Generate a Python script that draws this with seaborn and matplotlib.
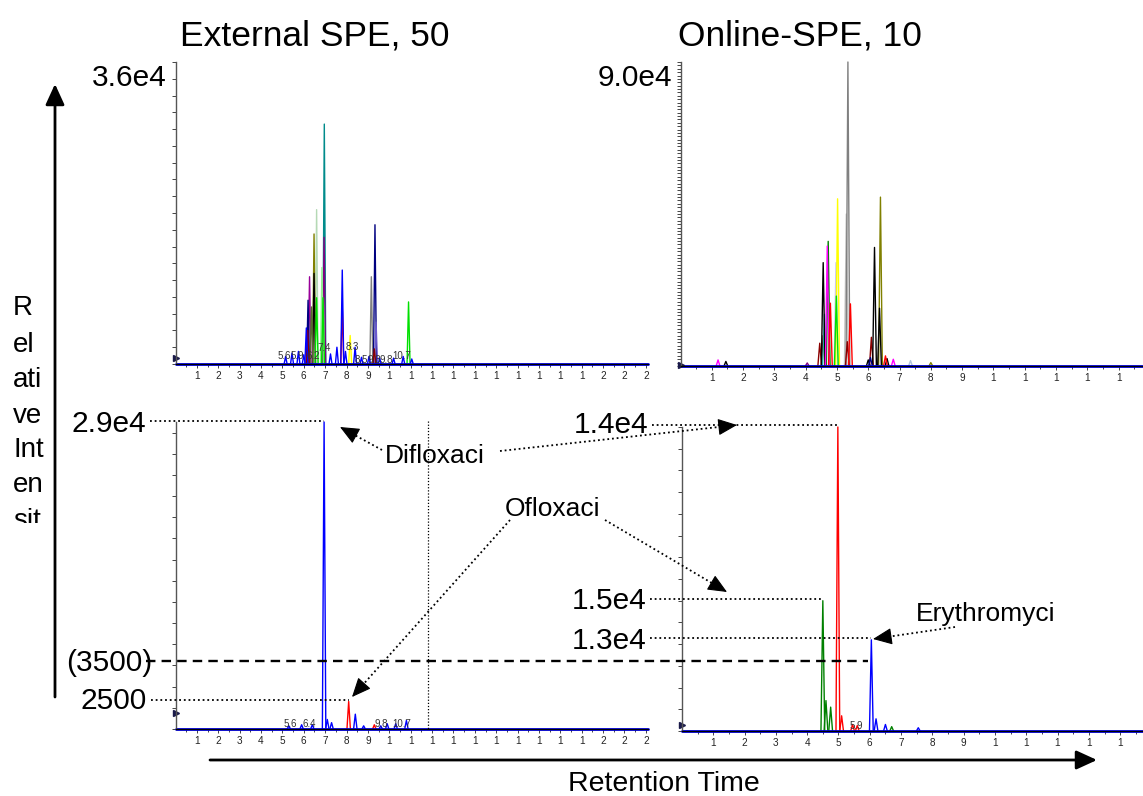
import numpy as np
import pandas as pd
import matplotlib
matplotlib.use("Agg")
import matplotlib.pyplot as plt
from matplotlib.transforms import Bbox
import seaborn as sns

W, H = 1143, 796

# ---------------- data (retention time in min, height in counts) ----------------
# External SPE, 50 - full scan overlay (top left)
tl_rt = [6.60, 6.96, 6.48, 6.95, 6.27, 6.48, 6.85, 6.20, 6.60, 6.90, 6.36, 6.18,
         7.80, 8.17, 9.16, 9.33, 9.38, 9.30, 10.90,
         6.12, 7.80, 5.15, 5.45, 5.75, 6.00, 7.25, 7.55, 7.95, 8.40, 8.70, 9.05,
         9.55, 10.20, 10.65, 11.05]
tl_counts = [18400, 28600, 15500, 15100, 10400, 10800, 11500, 7600, 7900, 7900, 6800, 4000,
             6800, 3400, 10400, 16600, 5000, 1800, 7400,
             4300, 11200, 900, 1300, 1500, 1100, 1200, 2000, 1500, 2000, 800, 900,
             700, 700, 900, 600]
tl_colors = ["#b5d9b5", "#008b8b", "#808000", "#800080", "#990099", "black", "#90ee90",
             "#000080", "#00e000", "#00e000", "#556b2f", "#8b0000",
             "red", "#ffff00", "#808080", "#000080", "#6a5acd", "#8b0000", "#00e000",
             "blue", "blue", "blue", "blue", "blue", "blue", "blue", "blue", "blue",
             "blue", "blue", "blue", "blue", "blue", "blue", "blue"]
tl_tags = ["5.6", "5.9", "6.2", "7.4", "8.3", "8.5", "9.3", "9.8", "10.7"]
tl_tag_rt = [5.10, 5.70, 6.45, 6.96, 8.25, 8.70, 9.30, 9.85, 10.60]
tl_tag_counts = [950, 950, 950, 1900, 2000, 470, 470, 470, 950]

# Online-SPE, 10 - full scan overlay (top right)
tr_rt = [4.45, 4.56, 4.60, 4.56, 4.72, 4.69, 4.79, 4.97, 5.02, 4.98, 5.30, 5.35,
         5.33, 5.43, 6.10, 6.20, 6.39, 6.36,
         1.20, 1.45, 4.05, 6.00, 6.07, 6.60, 6.55, 6.80, 7.35, 8.00]
tr_counts = [6750, 9000, 15300, 30600, 36900, 35500, 18600, 30600, 49500, 20700, 45000, 90000,
             7200, 18400, 8500, 35100, 50000, 17100,
             1800, 1350, 900, 1800, 2500, 2200, 3000, 2000, 1600, 1000]
tr_colors = ["#8b0000", "#8b0000", "#20b2aa", "black", "#008000", "#ff00ff", "red",
             "#c8c8ee", "#ffff00", "#00e000", "#c0c0c0", "#808080",
             "#8b0000", "red", "#8b0000", "black", "#808000", "black",
             "#ff00ff", "black", "#800080", "black", "#000080", "black", "red",
             "#ff00ff", "#b0c4de", "#808000"]

# External SPE, 50 - extracted ions (bottom left)
bl_rt = [8.10, 9.30, 6.95, 7.10, 7.30, 8.41, 5.30, 5.90, 6.40, 8.80, 9.60, 9.90, 10.30, 10.80]
bl_counts = [2600, 400, 29000, 900, 600, 1400, 300, 400, 400, 300, 300, 500, 500, 800]
bl_colors = ["red", "red"] + ["blue"] * 12
bl_tags = ["5.6", "6.4", "9.8", "10.7"]
bl_tag_rt = [5.36, 6.25, 9.61, 10.60]
bl_tag_counts = [470, 470, 470, 470]

# Online-SPE, 10 - extracted ions (bottom right)
br_rt = [4.50, 4.60, 4.75, 6.70, 4.98, 5.10, 5.45, 5.60, 6.05, 6.20, 6.50, 7.55]
br_counts = [6000, 1400, 1100, 200, 14000, 700, 300, 250, 4200, 560, 300, 150]
br_colors = ["#008000"] * 4 + ["red"] * 4 + ["blue"] * 4
br_tags = ["5.9"]
br_tag_rt = [5.58]
br_tag_counts = [230]

xt_left = [str(i)[0] for i in range(1, 23)]
xt_right = [str(i)[0] for i in range(1, 15)]

# ---------------- style ----------------
sns.set_theme(style="white")
plt.rcParams["font.family"] = ["Liberation Sans", "DejaVu Sans"]
plt.rcParams["text.color"] = "black"

fig = plt.figure(figsize=(W / 100, H / 100), dpi=100)


def add_panel(x0, x1, ytop, ybase):
    return fig.add_axes([x0 / W, 1 - ybase / H, (x1 - x0) / W, (ybase - ytop) / H])


def peak_frame(rt, counts, half_width):
    rows = []
    for i, (t, h) in enumerate(zip(rt, counts)):
        for dx, f in ((-half_width, 0.0), (0.0, 1.0), (half_width, 0.0)):
            rows.append({"peak": i, "time": t + dx, "counts": h * f})
    return pd.DataFrame(rows)


def draw_panel(ax, rt, counts, colors, half_width, xmax, ymax, ystep, xlabels,
               tags=(), tag_rt=(), tag_counts=(), marker_y=0.0):
    df = peak_frame(rt, counts, half_width)
    pal = {i: c for i, c in enumerate(colors)}
    sns.lineplot(data=df, x="time", y="counts", hue="peak", palette=pal,
                 estimator=None, sort=False, legend=False, lw=1.0, ax=ax)
    # blue baseline trace
    sns.lineplot(x=[0, xmax], y=[0, 0], color="blue", lw=2.0, ax=ax)
    for ln in ax.lines:
        ln.set_clip_on(False)
    ax.plot([0], [marker_y], marker=">", color="#1a1a4a", ms=4, clip_on=False)
    for s, t, c in zip(tags, tag_rt, tag_counts):
        ax.text(t, c, s, fontsize=7, color="#333333", ha="center", va="center")

    ax.set_xlim(0, xmax)
    ax.set_ylim(0, ymax)
    ax.set_xticks(range(1, len(xlabels) + 1))
    ax.set_xticklabels(xlabels, fontsize=7.2, color="#222222")
    ax.set_xticks(np.arange(0.5, xmax, 1.0), minor=True)
    ax.set_yticks(np.arange(0, ymax + 1, ystep))
    ax.set_yticklabels([])
    ax.tick_params(axis="both", which="both", direction="out", bottom=True, left=True,
                   length=3, width=0.7, color="#444444", pad=2)
    ax.tick_params(axis="x", which="minor", length=2)
    ax.set_xlabel("")
    ax.set_ylabel("")
    for s in ("top", "right"):
        ax.spines[s].set_visible(False)
    ax.spines["left"].set_color("#555555")
    ax.spines["left"].set_linewidth(1.0)
    ax.spines["bottom"].set_color("black")
    ax.spines["bottom"].set_linewidth(1.0)
    ax.patch.set_alpha(0)


ax_tl = add_panel(175.5, 648, 62, 364)
ax_tr = add_panel(680.5, 1143, 62, 366)
ax_bl = add_panel(175.5, 648, 422, 729)
ax_br = add_panel(682, 1143, 427, 731)

draw_panel(ax_tl, tl_rt, tl_counts, tl_colors, 0.07, 22.1, 36000, 2000, xt_left,
           tl_tags, tl_tag_rt, tl_tag_counts, marker_y=700)
draw_panel(ax_tr, tr_rt, tr_counts, tr_colors, 0.06, 14.78, 90000, 1000, xt_right,
           marker_y=300)
draw_panel(ax_bl, bl_rt, bl_counts, bl_colors, 0.08, 22.1, 29000, 2000, xt_left,
           bl_tags, bl_tag_rt, bl_tag_counts, marker_y=1500)
draw_panel(ax_br, br_rt, br_counts, br_colors, 0.06, 14.73, 14000, 1000, xt_right,
           br_tags, br_tag_rt, br_tag_counts, marker_y=280)

# ---------------- annotation layer (pixel coordinates) ----------------
ov = fig.add_axes([0, 0, 1, 1], zorder=10)
ov.set_xlim(0, W)
ov.set_ylim(H, 0)
ov.axis("off")
ov.patch.set_alpha(0)


def to_px(ax, x, y):
    return ov.transData.inverted().transform(ax.transData.transform((x, y)))


dot = (0, (1, 1.6))


def dotted_arrow(start, tip, head_px=16):
    x0, y0 = start
    x1, y1 = tip
    d = np.hypot(x1 - x0, y1 - y0)
    ux, uy = (x1 - x0) / d, (y1 - y0) / d
    bx, by = x1 - ux * head_px, y1 - uy * head_px
    ov.plot([x0, bx], [y0, by], color="black", lw=1.3, ls=dot)
    ov.annotate("", xy=(x1, y1), xytext=(bx, by),
                arrowprops=dict(arrowstyle="-|>,head_length=0.8,head_width=0.35",
                                lw=0.8, color="black", mutation_scale=15,
                                shrinkA=0, shrinkB=0))


ov.text(180, 45, "External SPE, 50", fontsize=25.5, ha="left", va="baseline")
ov.text(678, 45, "Online-SPE, 10", fontsize=25.5, ha="left", va="baseline")

value_labels = [("3.6e4", 167, 86), ("9.0e4", 672, 86), ("2.9e4", 146, 432),
                ("1.4e4", 648, 433), ("1.5e4", 646, 609), ("1.3e4", 646, 649),
                ("(3500)", 152, 671), ("2500", 147, 709)]
for s, x, y in value_labels:
    ov.text(x, y, s, fontsize=21.5, ha="right", va="baseline")

# leader lines from labels to the peak apexes
for ax, (t, h), x0 in [(ax_bl, (6.95, 29000), 150), (ax_bl, (8.10, 2600), 151),
                        (ax_br, (4.98, 14000), 652), (ax_br, (4.50, 6000), 650),
                        (ax_br, (6.05, 4200), 650)]:
    px, py = to_px(ax, t, h)
    ov.plot([x0, px], [py - 1.5, py - 1.5], color="black", lw=1.3, ls=dot)

ov.plot([428, 428], [421, 730], color="black", lw=0.9, ls=(0, (1, 1.5)))
ov.plot([146, 868], [661, 661], color="black", lw=1.7, ls=(0, (4, 2.6)))

for start, tip in [((382, 450), (340, 427)), ((500, 451), (737, 425)),
                   ((510, 520), (352, 697)), ((605, 520), (727, 592)),
                   ((955, 627), (873, 639))]:
    dotted_arrow(start, tip)

ov.text(385, 463, "Difloxaci", fontsize=19, ha="left", va="baseline")
ov.text(505, 516, "Ofloxaci", fontsize=19, ha="left", va="baseline")
ov.text(916, 621, "Erythromyci", fontsize=19, ha="left", va="baseline")

# axis arrows and labels
big_head = "-|>,head_length=0.7,head_width=0.32"
ov.annotate("", xy=(55, 84), xytext=(55, 697),
            arrowprops=dict(arrowstyle=big_head, lw=2, color="black",
                            mutation_scale=18, shrinkA=0, shrinkB=0))
ov.annotate("", xy=(1097, 760), xytext=(210, 760),
            arrowprops=dict(arrowstyle=big_head, lw=2, color="black",
                            mutation_scale=18, shrinkA=0, shrinkB=0))
ov.text(664, 791, "Retention Time", fontsize=20.5, ha="center", va="baseline")

clip = Bbox([[0, H - 523], [200, H]])
for s, yb in zip(["R", "el", "ati", "ve", "Int", "en", "sit"],
                 [315, 352, 387, 423, 457, 492, 528]):
    t = ov.text(13, yb, s, fontsize=20, ha="left", va="baseline")
    t.set_clip_box(clip)
    t.set_clip_on(True)

fig.savefig("out.png", dpi=100)
